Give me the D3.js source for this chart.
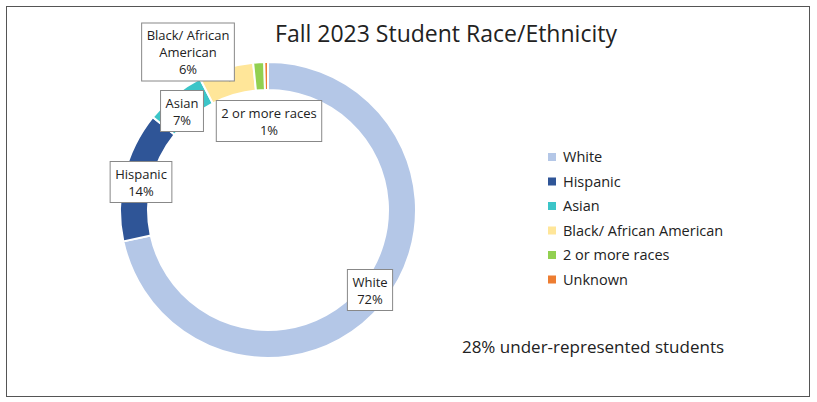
<!DOCTYPE html>
<html><head><meta charset="utf-8">
<script src="https://cdn.jsdelivr.net/npm/d3@7"></script>
<style>body{margin:0;background:#fff}text{font-family:"Open Sans",Lato,sans-serif;fill:#222}</style>
</head><body>
<svg id="c" width="817" height="402"></svg>
<script>
var categories = ["White", "Hispanic", "Asian", "Black/ African American", "2 or more races", "Unknown"];
var values = [71.6, 14.2, 6.6, 6.0, 1.2, 0.4];
var colors = ["#B4C7E7", "#2F5597", "#3CC5C8", "#FFE699", "#92D050", "#ED7D31"];
var labelLines = [["White"], ["Hispanic"], ["Asian"], ["Black/ African", "American"], ["2 or more races"], null];
var labelPos = [[370, 290], [141, 182], [182, 111], [188, 52], [269, 121], null];

var svg = d3.select("#c");
svg.append("rect").attr("x", 6.5).attr("y", 6.5).attr("width", 803).attr("height", 390)
  .attr("fill", "none").attr("stroke", "#555").attr("stroke-width", 1);

svg.append("text").attr("x", 446).attr("y", 42).attr("text-anchor", "middle")
  .style("font-size", "23px").text("Fall 2023 Student Race/Ethnicity");

var g = svg.append("g").attr("transform", "translate(268,210)");
var pie = d3.pie().sort(null).value(function(d){ return d; });
var arc = d3.arc().innerRadius(120).outerRadius(148);
var arcs = pie(values);
g.selectAll("path").data(arcs).enter().append("path")
  .attr("d", arc).attr("fill", function(d, i){ return colors[i]; })
  .attr("stroke", "#fff").attr("stroke-width", 2);

// leader lines for Asian and Black
[2, 3].forEach(function(i){
  var c = arc.centroid(arcs[i]);
  var p = labelPos[i];
  g.append("line").attr("x1", c[0]).attr("y1", c[1])
    .attr("x2", p[0] - 268 + (i == 2 ? 18 : 40)).attr("y2", p[1] - 210 + (i == 2 ? 5 : 25))
    .attr("stroke", "#999").attr("stroke-width", 1);
});

arcs.forEach(function(d, i){
  if (!labelLines[i]) return;
  var lines = labelLines[i].concat([Math.round(values[i]) + "%"]);
  var p = labelPos[i];
  var lg = svg.append("g").attr("transform", "translate(" + p[0] + "," + p[1] + ")");
  var t = lg.append("text").attr("text-anchor", "middle").style("font-size", "13px");
  lines.forEach(function(l, k){
    t.append("tspan").attr("x", 0).attr("y", (k - (lines.length - 1) / 2) * 17 + 5).text(l);
  });
  var b = t.node().getBBox();
  lg.insert("rect", "text").attr("x", b.x - 5).attr("y", b.y - 3)
    .attr("width", b.width + 10).attr("height", b.height + 6)
    .attr("fill", "#fff").attr("stroke", "#888");
});

var leg = svg.append("g").attr("transform", "translate(548,157)");
categories.forEach(function(c, i){
  var r = leg.append("g").attr("transform", "translate(0," + i * 24.5 + ")");
  r.append("rect").attr("x", 0).attr("y", -4).attr("width", 8).attr("height", 8).attr("fill", colors[i]);
  r.append("text").attr("x", 15).attr("y", 5).style("font-size", "14.5px").text(c);
});

svg.append("text").attr("x", 593).attr("y", 353).attr("text-anchor", "middle")
  .style("font-size", "17px").text("28% under-represented students");
</script>
</body></html>
